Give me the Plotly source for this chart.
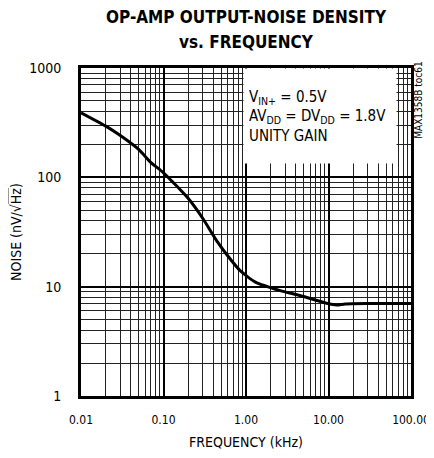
import plotly.graph_objects as go

# curve
freq_khz = [0.01, 0.02, 0.03, 0.05, 0.07, 0.1, 0.2, 0.3, 0.44, 0.64, 0.85, 1.3, 2.6, 4.5, 9.5, 12.5, 16, 30, 60, 100]
noise = [390, 294, 241, 180, 137, 110, 64, 42, 26.4, 18, 14, 11, 9.2, 8.3, 7.05, 6.8, 6.95, 7.0, 7.0, 7.0]

x_ticks = [0.01, 0.1, 1, 10, 100]
x_tick_text = ["0.01", "0.10", "1.00", "10.00", "100.00"]
y_ticks = [1, 10, 100, 1000]
y_tick_text = ["1", "10", "100", "1000"]
minor_x = [m * 10 ** e for e in range(-2, 2) for m in range(2, 10)]
minor_y = [m * 10 ** e for e in range(0, 3) for m in range(2, 10)]

FONT = "DejaVu Sans Condensed, Liberation Sans Narrow, Liberation Sans, sans-serif"

fig = go.Figure(go.Scatter(
    x=freq_khz, y=noise, mode="lines",
    line=dict(color="black", width=3, shape="spline", smoothing=0.6),
    hoverinfo="skip",
))

axis_common = dict(
    type="log",
    tickmode="array",
    automargin=False,
    ticklabeloverflow="allow",
    showgrid=True, gridcolor="black", gridwidth=1.5,
    showline=True, linecolor="black", linewidth=3, mirror=True,
    ticks="", zeroline=False,
)

fig.update_xaxes(
    **axis_common,
    range=[-2, 2],
    tickvals=x_ticks, ticktext=x_tick_text,
    tickfont=dict(family=FONT, size=12, color="black"),
    ticklabelstandoff=11,
    minor=dict(tickmode="array", tickvals=minor_x, showgrid=True, gridcolor="#222", gridwidth=1, ticks=""),
    title=dict(text="FREQUENCY (kHz)", font=dict(family=FONT, size=14, color="black"), standoff=14),
)
fig.update_yaxes(
    **axis_common,
    range=[0, 3],
    tickvals=y_ticks, ticktext=y_tick_text,
    tickfont=dict(family=FONT, size=14, color="black"),
    ticklabelstandoff=14,
    minor=dict(tickmode="array", tickvals=minor_y, showgrid=True, gridcolor="#222", gridwidth=1, ticks=""),
    title=dict(text="NOISE (nV/√<span style='text-decoration:overline'>Hz</span>)",
               font=dict(family=FONT, size=14, color="black"), standoff=16),
)

# the page adds an 8px body margin, so the figure is drawn smaller to fit the window
fig.update_layout(
    width=426, height=442,
    margin=dict(l=73, r=23, t=60, b=54),
    plot_bgcolor="white", paper_bgcolor="white",
    showlegend=False,
    annotations=[
        dict(
            xref="paper", yref="paper", x=0.5, y=1.0, yshift=51, xanchor="center", yanchor="middle",
            text="<b>OP-AMP OUTPUT-NOISE DENSITY</b>",
            showarrow=False, font=dict(family=FONT, size=17, color="black"),
        ),
        dict(
            xref="paper", yref="paper", x=0.5, y=1.0, yshift=26, xanchor="center", yanchor="middle",
            text="<b>vs. FREQUENCY</b>",
            showarrow=False, font=dict(family=FONT, size=17, color="black"),
        ),
        dict(
            xref="paper", yref="paper", x=0.49, y=1.0, xanchor="left", yanchor="top",
            text="V<sub>IN+</sub> = 0.5V<br>AV<sub>DD</sub> = DV<sub>DD</sub> = 1.8V<br>UNITY GAIN",
            showarrow=False, align="left", bgcolor="white",
            width=142, height=84, borderpad=5, valign="middle",
            font=dict(family=FONT, size=15, color="black"),
        ),
        dict(
            xref="paper", yref="paper", x=1.022, y=1.0, yshift=8, xanchor="center", yanchor="top",
            text="MAX1358B toc61", textangle=-90, showarrow=False,
            font=dict(family=FONT, size=10, color="black"),
        ),
    ],
)

fig.write_html("out.html")
